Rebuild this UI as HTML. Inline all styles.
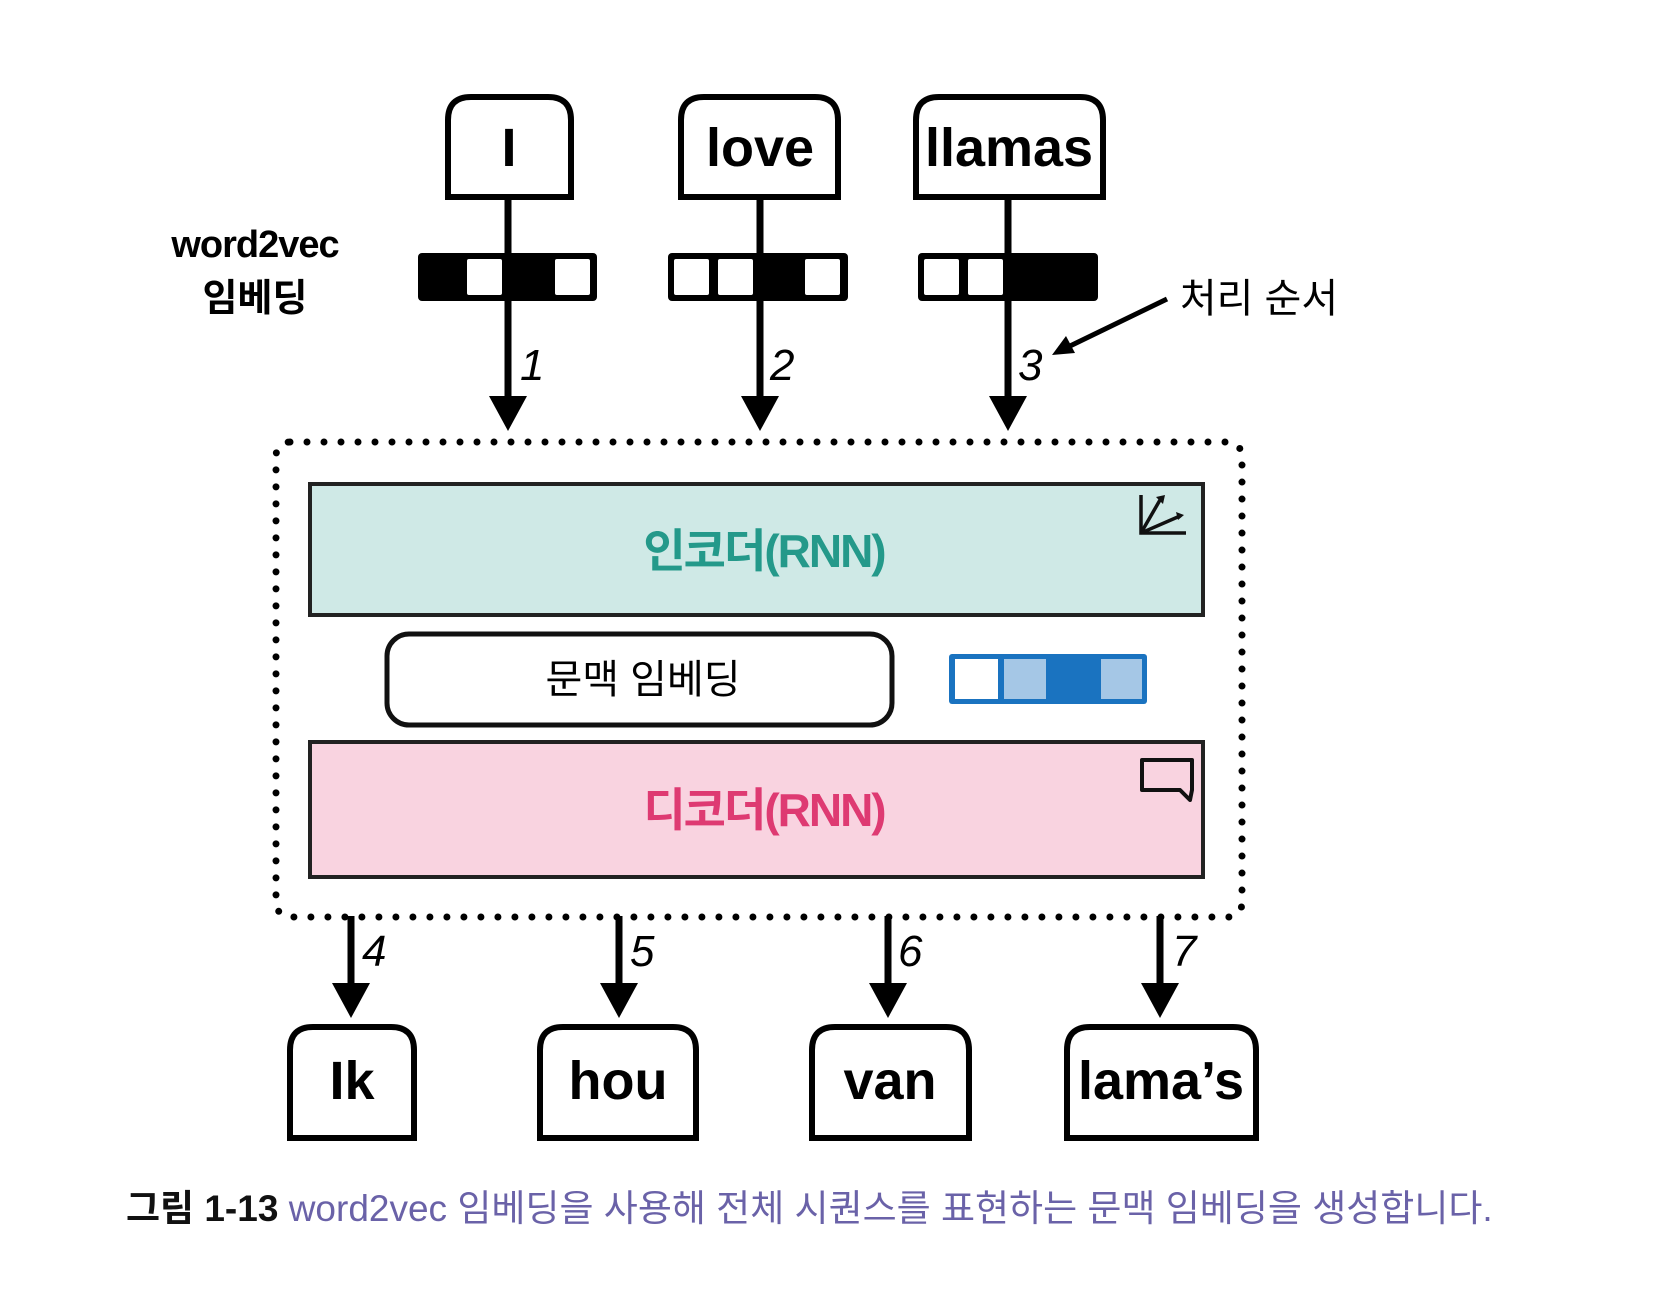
<!DOCTYPE html>
<html><head><meta charset="utf-8"><style>
html,body{margin:0;padding:0;background:#fff;}
svg{display:block;}
.tok{font-family:"Liberation Sans Narrow","Liberation Sans","Noto Sans CJK KR",sans-serif;font-weight:bold;font-size:54px;text-anchor:middle;fill:#000;}
.num{font-family:"Liberation Sans Narrow","Liberation Sans",sans-serif;font-style:italic;font-size:44px;fill:#000;}
.kr{font-family:"Liberation Sans","Noto Sans CJK KR",sans-serif;}
</style></head><body>
<svg width="1680" height="1306" viewBox="0 0 1680 1306" xmlns="http://www.w3.org/2000/svg">
<defs>
<marker id="ah" markerWidth="10" markerHeight="10" refX="8" refY="5" orient="auto" markerUnits="userSpaceOnUse" viewBox="0 0 10 10"><path d="M0,0 L10,5 L0,10 z" fill="#000"/></marker>
</defs>
<g fill="none" stroke="#000" stroke-width="6">
<!-- top token boxes -->
<path d="M448,197 V120 Q448,97 471,97 H548 Q571,97 571,120 V197 Z" fill="#fff"/>
<path d="M681,197 V120 Q681,97 704,97 H815 Q838,97 838,120 V197 Z" fill="#fff"/>
<path d="M916,197 V120 Q916,97 939,97 H1080 Q1103,97 1103,120 V197 Z" fill="#fff"/>
<!-- bottom token boxes -->
<path d="M290,1138 V1050 Q290,1027 313,1027 H391 Q414,1027 414,1050 V1138 Z" fill="#fff"/>
<path d="M540,1138 V1050 Q540,1027 563,1027 H673 Q696,1027 696,1050 V1138 Z" fill="#fff"/>
<path d="M812,1138 V1050 Q812,1027 835,1027 H946 Q969,1027 969,1050 V1138 Z" fill="#fff"/>
<path d="M1067,1138 V1050 Q1067,1027 1090,1027 H1233 Q1256,1027 1256,1050 V1138 Z" fill="#fff"/>
</g>
<g class="tok">
<text x="509" y="166">I</text>
<text x="760" y="166">love</text>
<text x="1009" y="166">llamas</text>
<text x="352" y="1099">Ik</text>
<text x="618" y="1099">hou</text>
<text x="890" y="1099">van</text>
<text x="1161" y="1099">lama’s</text>
</g>
<!-- vertical lines top -->
<g stroke="#000" stroke-width="7">
<line x1="508" y1="197" x2="508" y2="398"/>
<line x1="760" y1="197" x2="760" y2="398"/>
<line x1="1008" y1="197" x2="1008" y2="398"/>
<line x1="351" y1="916" x2="351" y2="985"/>
<line x1="619" y1="916" x2="619" y2="985"/>
<line x1="888" y1="916" x2="888" y2="985"/>
<line x1="1160" y1="916" x2="1160" y2="985"/>
</g>
<g fill="#000">
<path d="M489,396 H527 L508,431 Z"/>
<path d="M741,396 H779 L760,431 Z"/>
<path d="M989,396 H1027 L1008,431 Z"/>
<path d="M332,983 H370 L351,1018 Z"/>
<path d="M600,983 H638 L619,1018 Z"/>
<path d="M869,983 H907 L888,1018 Z"/>
<path d="M1141,983 H1179 L1160,1018 Z"/>
</g>
<!-- vector bars -->
<g>
<rect x="418" y="253" width="179" height="48" rx="4" fill="#000"/>
<rect x="467" y="259" width="35" height="36" rx="2" fill="#fff"/>
<rect x="555" y="259" width="35" height="36" rx="2" fill="#fff"/>
<rect x="668" y="253" width="180" height="48" rx="4" fill="#000"/>
<rect x="674" y="259" width="35" height="36" rx="2" fill="#fff"/>
<rect x="718" y="259" width="35" height="36" rx="2" fill="#fff"/>
<rect x="805" y="259" width="35" height="36" rx="2" fill="#fff"/>
<rect x="918" y="253" width="180" height="48" rx="4" fill="#000"/>
<rect x="924" y="259" width="35" height="36" rx="2" fill="#fff"/>
<rect x="968" y="259" width="35" height="36" rx="2" fill="#fff"/>
<line x1="508" y1="253" x2="508" y2="301" stroke="#000" stroke-width="7"/>
<line x1="760" y1="253" x2="760" y2="301" stroke="#000" stroke-width="7"/>
<line x1="1008" y1="253" x2="1008" y2="301" stroke="#000" stroke-width="7"/>
</g>
<g class="num">
<text x="520" y="380">1</text>
<text x="770" y="380">2</text>
<text x="1018" y="380">3</text>
<text x="362" y="966">4</text>
<text x="630" y="966">5</text>
<text x="898" y="966">6</text>
<text x="1172" y="966">7</text>
</g>
<!-- word2vec label -->
<text x="255" y="257" class="kr" font-size="38" font-weight="bold" text-anchor="middle" letter-spacing="-1">word2vec</text>
<text x="255" y="311" class="kr" font-size="38" font-weight="bold" text-anchor="middle">임베딩</text>
<!-- processing order -->
<text x="1259" y="312" class="kr" font-size="40" text-anchor="middle">처리 순서</text>
<line x1="1167" y1="299" x2="1070" y2="346" stroke="#000" stroke-width="5"/>
<path d="M1052,355 L1066,336 L1075,353 Z" fill="#000"/>
<!-- dotted container -->
<rect x="276" y="442" width="966" height="475" rx="14" fill="none" stroke="#000" stroke-width="7" stroke-dasharray="0 17" stroke-linecap="round"/>
<!-- encoder -->
<rect x="310" y="484" width="893" height="131" fill="#cfe9e6" stroke="#222" stroke-width="4"/>
<text x="764" y="567" class="kr" font-size="46" font-weight="bold" fill="#24998a" text-anchor="middle" letter-spacing="-2">인코더(RNN)</text>
<g stroke="#111" stroke-width="3.5" fill="none">
<path d="M1141,495 V533 H1186"/>
<line x1="1141" y1="533" x2="1160" y2="500"/>
<line x1="1141" y1="533" x2="1180" y2="516"/>
</g>
<path d="M1156,497 L1165,495 L1163,504 Z M1176,512 L1184,515 L1178,520 Z" fill="#111"/>
<!-- context embedding -->
<rect x="387" y="634" width="505" height="91" rx="22" fill="#fff" stroke="#111" stroke-width="5"/>
<text x="643" y="693" class="kr" font-size="40" text-anchor="middle">문맥 임베딩</text>
<rect x="949" y="654" width="198" height="50" rx="3" fill="#1a73c0"/>
<rect x="955" y="659" width="43" height="40" fill="#fff"/>
<rect x="1004" y="659" width="42" height="40" fill="#a5c7e6"/>
<rect x="1101" y="659" width="41" height="40" fill="#a5c7e6"/>
<!-- decoder -->
<rect x="310" y="742" width="893" height="135" fill="#f9d3e0" stroke="#222" stroke-width="4"/>
<text x="764" y="826" class="kr" font-size="46" font-weight="bold" fill="#de3a72" text-anchor="middle" letter-spacing="-2">디코더(RNN)</text>
<path d="M1142,760 H1192 V790 L1190,800 L1180,790 H1142 Z" fill="none" stroke="#111" stroke-width="4" stroke-linejoin="round"/>
<!-- caption -->
<text x="126" y="1221" class="kr" font-size="37"><tspan font-weight="bold" fill="#111">그림 1-13</tspan><tspan fill="#6a62a8"> word2vec 임베딩을 사용해 전체 시퀀스를 표현하는 문맥 임베딩을 생성합니다.</tspan></text>
</svg>
</body></html>
